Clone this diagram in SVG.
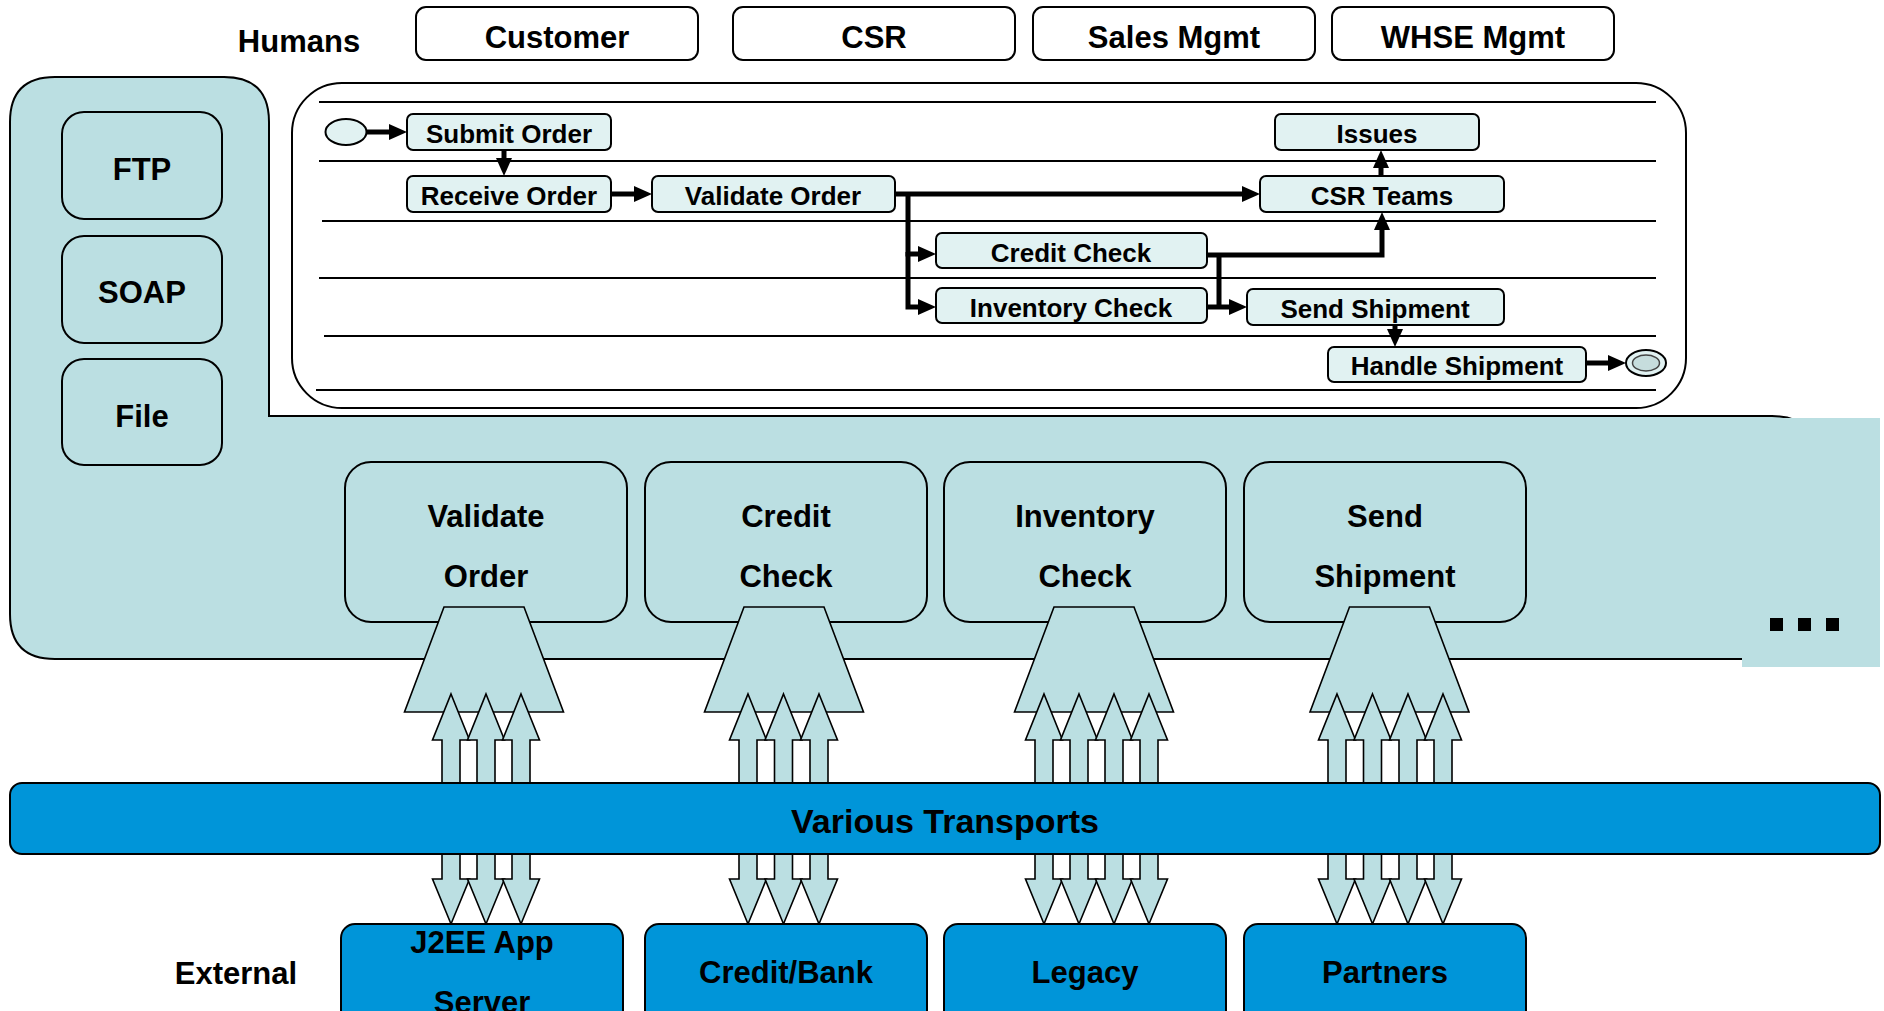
<svg xmlns="http://www.w3.org/2000/svg" xmlns:xlink="http://www.w3.org/1999/xlink" width="1884" height="1011" viewBox="0 0 1884 1011">
<style>
text{font-family:"Liberation Sans",Arial,Helvetica,sans-serif;font-weight:bold;fill:#000;text-anchor:middle}
.big{font-size:31px}
.proc{font-size:26px}
.hbox{fill:#fff;stroke:#000;stroke-width:2}
.pnode{fill:#E1F2F2;stroke:#000;stroke-width:2}
.svc{fill:#BBDFE2;stroke:#000;stroke-width:2}
.ext{fill:#0095D9;stroke:#000;stroke-width:2}
.lane{stroke:#000;stroke-width:2;fill:none}
.conn{stroke:#000;stroke-width:5;fill:none;marker-end:url(#ah)}
.seg{stroke:#000;stroke-width:5;fill:none}
.blk{fill:#BBDFE2;stroke:#000;stroke-width:1.6;stroke-linejoin:miter}
</style>
<defs>
<marker id="ah" markerUnits="userSpaceOnUse" markerWidth="18" markerHeight="18" viewBox="0 0 18 18" refX="8" refY="9" orient="auto">
<path d="M0,1 L18,9 L0,17 Z" fill="#000"/>
</marker>
<path id="dbl" d="M0,694 L18.5,740 L9,740 L9,879 L18.5,879 L0,924 L-18.5,879 L-9,879 L-9,740 L-18.5,740 Z"/>
<path id="trap" d="M-40,607 L40,607 L79.5,712 L-79.5,712 Z"/>
</defs>
<rect width="1884" height="1011" fill="#fff"/>

<!-- Humans row -->
<text class="big" x="299" y="52">Humans</text>
<g id="h-customer"><rect class="hbox" x="416" y="7" width="282" height="53" rx="10"/><text class="big" x="557" y="48">Customer</text></g>
<g id="h-csr"><rect class="hbox" x="733" y="7" width="282" height="53" rx="10"/><text class="big" x="874" y="48">CSR</text></g>
<g id="h-sales"><rect class="hbox" x="1033" y="7" width="282" height="53" rx="10"/><text class="big" x="1174" y="48">Sales Mgmt</text></g>
<g id="h-whse"><rect class="hbox" x="1332" y="7" width="282" height="53" rx="10"/><text class="big" x="1473" y="48">WHSE Mgmt</text></g>

<!-- Service region -->
<g id="service-region">
<path d="M55,77 H224 Q269,77 269,122 V416 H1772 Q1817,416 1817,461 V614 Q1817,659 1772,659 H55 Q10,659 10,614 V122 Q10,77 55,77 Z" fill="#BBDFE2" stroke="#000" stroke-width="2"/>
<rect x="1742" y="418" width="138" height="249" fill="#BBDFE2"/>
<rect x="1770" y="618" width="13" height="13" fill="#000"/>
<rect x="1798" y="618" width="13" height="13" fill="#000"/>
<rect x="1826" y="618" width="13" height="13" fill="#000"/>
</g>
<g id="t-ftp"><rect class="svc" x="62" y="112" width="160" height="107" rx="22"/><text class="big" x="142" y="180">FTP</text></g>
<g id="t-soap"><rect class="svc" x="62" y="236" width="160" height="107" rx="22"/><text class="big" x="142" y="303">SOAP</text></g>
<g id="t-file"><rect class="svc" x="62" y="359" width="160" height="106" rx="22"/><text class="big" x="142" y="427">File</text></g>

<!-- Process box -->
<g id="process">
<rect x="292" y="83" width="1394" height="325" rx="50" fill="#fff" stroke="#000" stroke-width="2"/>
<line class="lane" x1="319" y1="102" x2="1656" y2="102"/>
<line class="lane" x1="319" y1="161" x2="1656" y2="161"/>
<line class="lane" x1="322" y1="221" x2="1656" y2="221"/>
<line class="lane" x1="319" y1="278" x2="1656" y2="278"/>
<line class="lane" x1="324" y1="336" x2="1656" y2="336"/>
<line class="lane" x1="316" y1="390" x2="1656" y2="390"/>
</g>
<g id="p-start"><ellipse cx="346" cy="132" rx="20.5" ry="13" fill="#E1F2F2" stroke="#000" stroke-width="2"/></g>
<g id="p-submit"><rect class="pnode" x="407" y="114" width="204" height="36" rx="6"/><text class="proc" x="509" y="143">Submit Order</text></g>
<g id="p-receive"><rect class="pnode" x="407" y="176" width="204" height="36" rx="6"/><text class="proc" x="509" y="205">Receive Order</text></g>
<g id="p-validate"><rect class="pnode" x="652" y="176" width="243" height="36" rx="6"/><text class="proc" x="773" y="205">Validate Order</text></g>
<g id="p-credit"><rect class="pnode" x="936" y="233" width="271" height="35" rx="6"/><text class="proc" x="1071" y="262">Credit Check</text></g>
<g id="p-inventory"><rect class="pnode" x="936" y="288" width="271" height="35" rx="6"/><text class="proc" x="1071" y="317">Inventory Check</text></g>
<g id="p-issues"><rect class="pnode" x="1275" y="114" width="204" height="36" rx="6"/><text class="proc" x="1377" y="143">Issues</text></g>
<g id="p-csrteams"><rect class="pnode" x="1260" y="176" width="244" height="36" rx="6"/><text class="proc" x="1382" y="205">CSR Teams</text></g>
<g id="p-send"><rect class="pnode" x="1247" y="289" width="257" height="36" rx="6"/><text class="proc" x="1375" y="318">Send Shipment</text></g>
<g id="p-handle"><rect class="pnode" x="1328" y="347" width="258" height="35" rx="6"/><text class="proc" x="1457" y="375">Handle Shipment</text></g>
<g id="p-end"><ellipse cx="1646" cy="363" rx="20" ry="13" fill="#E1F2F2" stroke="#000" stroke-width="2"/><ellipse cx="1646" cy="363" rx="13.5" ry="8" fill="#C6DDDD" stroke="#444" stroke-width="1.5"/></g>

<g id="connectors">
<path class="conn" d="M367,132 H397"/>
<path class="conn" d="M504,150 V166"/>
<path class="conn" d="M611,194 H642"/>
<path class="conn" d="M895,194 H1250"/>
<path class="conn" d="M908,194 V254 H926"/>
<path class="conn" d="M908,252 V307 H926"/>
<path class="conn" d="M1207,255 H1382 V222"/>
<path class="seg" d="M1219,255 V307"/>
<path class="conn" d="M1207,307 H1237"/>
<path class="conn" d="M1381,176 V160"/>
<path class="conn" d="M1395,325 V337"/>
<path class="conn" d="M1586,363 H1616"/>
</g>

<!-- Service nodes -->
<g id="s-validate"><rect class="svc" x="345" y="462" width="282" height="160" rx="26"/><text class="big" x="486" y="527">Validate</text><text class="big" x="486" y="587">Order</text></g>
<g id="s-credit"><rect class="svc" x="645" y="462" width="282" height="160" rx="26"/><text class="big" x="786" y="527">Credit</text><text class="big" x="786" y="587">Check</text></g>
<g id="s-inventory"><rect class="svc" x="944" y="462" width="282" height="160" rx="26"/><text class="big" x="1085" y="527">Inventory</text><text class="big" x="1085" y="587">Check</text></g>
<g id="s-send"><rect class="svc" x="1244" y="462" width="282" height="160" rx="26"/><text class="big" x="1385" y="527">Send</text><text class="big" x="1385" y="587">Shipment</text></g>

<!-- Funnels and block arrows -->
<g id="flows">
<use xlink:href="#trap" href="#trap" class="blk" x="484"/>
<use xlink:href="#trap" href="#trap" class="blk" x="784"/>
<use xlink:href="#trap" href="#trap" class="blk" x="1094"/>
<use xlink:href="#trap" href="#trap" class="blk" x="1389.5"/>
<use xlink:href="#dbl" href="#dbl" class="blk" x="451"/>
<use xlink:href="#dbl" href="#dbl" class="blk" x="486"/>
<use xlink:href="#dbl" href="#dbl" class="blk" x="521"/>
<use xlink:href="#dbl" href="#dbl" class="blk" x="748"/>
<use xlink:href="#dbl" href="#dbl" class="blk" x="783.5"/>
<use xlink:href="#dbl" href="#dbl" class="blk" x="819"/>
<use xlink:href="#dbl" href="#dbl" class="blk" x="1044"/>
<use xlink:href="#dbl" href="#dbl" class="blk" x="1079"/>
<use xlink:href="#dbl" href="#dbl" class="blk" x="1114"/>
<use xlink:href="#dbl" href="#dbl" class="blk" x="1149"/>
<use xlink:href="#dbl" href="#dbl" class="blk" x="1337"/>
<use xlink:href="#dbl" href="#dbl" class="blk" x="1372.5"/>
<use xlink:href="#dbl" href="#dbl" class="blk" x="1408"/>
<use xlink:href="#dbl" href="#dbl" class="blk" x="1443"/>
</g>

<g id="transports"><rect class="ext" x="10" y="783" width="1870" height="71" rx="12"/><text x="945" y="833" style="font-size:34px">Various Transports</text></g>

<text class="big" x="236" y="984">External</text>
<g id="e-j2ee"><rect class="ext" x="341" y="924" width="282" height="120" rx="14"/><text class="big" x="482" y="953">J2EE App</text><text class="big" x="482" y="1013">Server</text></g>
<g id="e-credit"><rect class="ext" x="645" y="924" width="282" height="120" rx="14"/><text class="big" x="786" y="983">Credit/Bank</text></g>
<g id="e-legacy"><rect class="ext" x="944" y="924" width="282" height="120" rx="14"/><text class="big" x="1085" y="983">Legacy</text></g>
<g id="e-partners"><rect class="ext" x="1244" y="924" width="282" height="120" rx="14"/><text class="big" x="1385" y="983">Partners</text></g>
</svg>
